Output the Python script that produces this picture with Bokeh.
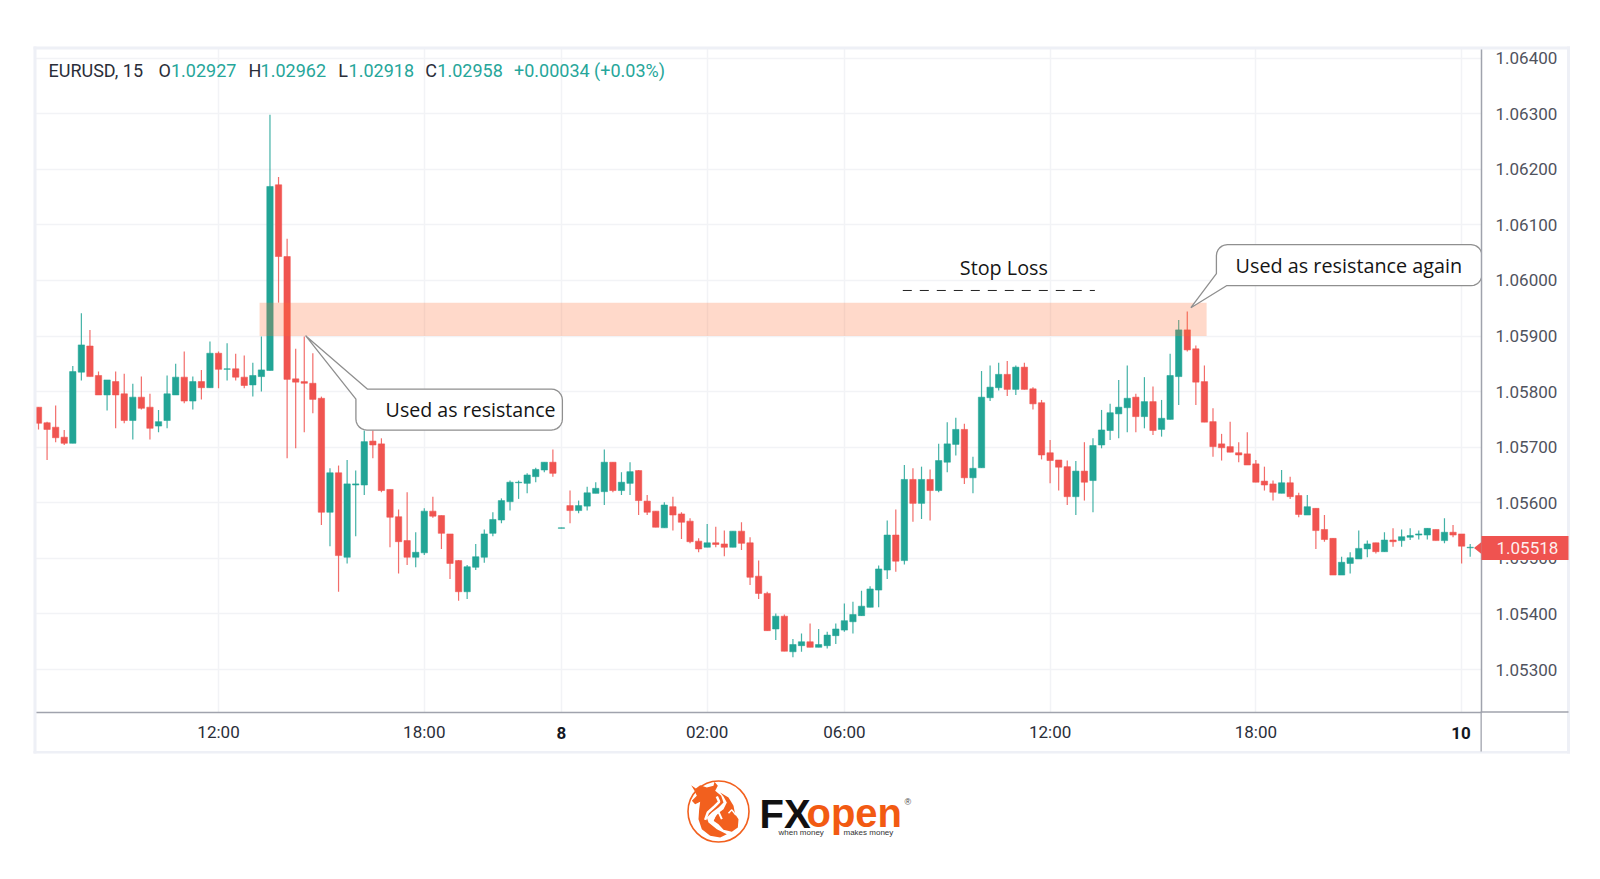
import numpy as np
from bokeh.plotting import figure
from bokeh.models import FixedTicker, NumeralTickFormatter, Label
from bokeh.embed import file_html
from bokeh.resources import INLINE

# prices in 1e-5 above 1.0 (5772 = 1.05772), one per 15-minute bar
open_pts = [5772,5744,5736,5718,5707,5835,5882,5829,5794,5818,5796,5748,5790,5772,5738,5748,5794,5826,5783,5818,
5807,5869,5840,5841,5826,5812,5827,5838,6172,6043,5823,5818,5815,5788,5583,5654,5502,5632,5632,5711,
5706,5624,5575,5532,5502,5510,5585,5577,5544,5496,5440,5484,5502,5545,5569,5602,5636,5635,5647,5659,
5673,5554,5595,5586,5594,5617,5620,5673,5622,5635,5658,5603,5585,5555,5593,5580,5567,5531,5520,5528,
5526,5520,5549,5528,5468,5437,5373,5396,5332,5343,5350,5340,5343,5361,5371,5386,5397,5412,5443,5479,
5542,5496,5642,5599,5642,5622,5673,5705,5732,5645,5663,5789,5807,5831,5804,5844,5805,5780,5690,5677,
5665,5611,5657,5640,5704,5730,5760,5771,5790,5755,5782,5732,5750,5827,5911,5877,5818,5746,5706,5701,
5690,5688,5670,5639,5634,5617,5636,5613,5578,5590,5552,5536,5470,5491,5499,5517,5528,5512,5533,5532,
5538,5542,5542,5552,5532,5547,5544,5519,5520]
high_pts = [5772,5746,5775,5731,5846,5941,5911,5836,5821,5836,5832,5814,5827,5796,5767,5829,5850,5872,5827,5839,
5890,5872,5887,5868,5865,5852,5899,6298,6186,6075,5877,5899,5869,5791,5662,5667,5677,5658,5730,5730,
5716,5624,5588,5619,5547,5590,5611,5577,5544,5497,5488,5526,5552,5583,5608,5640,5640,5653,5663,5673,
5696,5555,5622,5604,5629,5637,5696,5673,5655,5673,5659,5614,5585,5601,5611,5583,5572,5536,5562,5557,
5550,5549,5565,5538,5496,5440,5401,5399,5355,5365,5383,5373,5368,5383,5419,5422,5442,5450,5487,5568,
5588,5668,5662,5665,5660,5706,5745,5753,5742,5683,5837,5847,5852,5855,5847,5852,5808,5785,5713,5677,
5676,5675,5709,5716,5767,5778,5821,5847,5796,5826,5809,5785,5868,5929,5944,5883,5847,5770,5724,5746,
5709,5727,5677,5665,5640,5659,5647,5618,5614,5590,5578,5536,5503,5511,5550,5532,5528,5547,5554,5552,
5554,5550,5554,5552,5572,5560,5544,5526,5521]
low_pts = [5732,5677,5709,5704,5707,5820,5827,5794,5766,5734,5743,5714,5768,5714,5727,5734,5794,5779,5768,5786,
5807,5806,5820,5820,5806,5791,5800,5838,5960,5680,5698,5727,5761,5560,5522,5440,5491,5540,5614,5680,
5619,5520,5473,5488,5484,5506,5573,5517,5463,5424,5427,5479,5492,5540,5563,5586,5607,5617,5637,5655,
5647,5554,5563,5581,5586,5617,5596,5619,5614,5614,5578,5578,5556,5555,5550,5535,5527,5511,5520,5520,
5504,5520,5515,5452,5427,5370,5353,5333,5322,5332,5340,5340,5338,5346,5368,5365,5397,5412,5412,5463,
5476,5489,5566,5571,5568,5619,5655,5685,5634,5617,5663,5783,5802,5792,5794,5804,5768,5678,5635,5622,
5596,5578,5604,5583,5698,5713,5716,5727,5727,5734,5722,5719,5750,5776,5872,5776,5745,5683,5676,5691,
5673,5668,5637,5622,5604,5617,5607,5574,5578,5517,5530,5470,5470,5473,5499,5502,5509,5512,5521,5521,
5533,5534,5534,5532,5527,5538,5491,5503,5515]
close_pts = [5743,5732,5717,5707,5836,5884,5827,5794,5821,5794,5748,5790,5770,5734,5746,5796,5826,5783,5818,5807,
5869,5840,5841,5826,5811,5829,5839,6169,6043,5822,5817,5815,5786,5583,5654,5505,5634,5634,5710,5704,
5622,5574,5530,5502,5511,5585,5576,5545,5491,5440,5485,5503,5544,5570,5604,5637,5637,5650,5660,5673,
5653,5555,5586,5595,5618,5626,5673,5622,5637,5656,5604,5583,5556,5596,5578,5565,5530,5517,5528,5525,
5520,5549,5527,5466,5437,5370,5396,5333,5345,5350,5340,5345,5362,5373,5388,5399,5414,5445,5481,5542,
5495,5642,5599,5642,5622,5676,5706,5732,5645,5662,5790,5808,5831,5804,5844,5804,5778,5686,5676,5664,
5611,5657,5637,5703,5731,5762,5772,5788,5755,5782,5730,5752,5829,5911,5875,5817,5745,5701,5699,5691,
5686,5668,5637,5632,5619,5636,5611,5579,5593,5550,5534,5470,5493,5501,5518,5526,5512,5533,5530,5539,
5541,5544,5554,5532,5547,5542,5522,5520,5518]

tick_bars = [22, 46, 62, 79, 95, 119, 143, 167]
tick_labels = ["12:00", "18:00", "8", "02:00", "06:00", "12:00", "18:00", "10"]
bold_ticks = ["8", "10"]
price_ticks = [1.053, 1.054, 1.055, 1.056, 1.057, 1.058, 1.059, 1.060, 1.061, 1.062, 1.063, 1.064]
zone_low, zone_high = 1.05900, 1.05960
last_price = 1.05518

legend_parts = [("EURUSD, 15", 48, "#2a2e39"), ("O", 158, "#2a2e39"), ("1.02927", 170.4, "#26a69a"),
                ("H", 248, "#2a2e39"), ("1.02962", 260, "#26a69a"), ("L", 337.7, "#2a2e39"),
                ("1.02918", 348, "#26a69a"), ("C", 424.5, "#2a2e39"), ("1.02958", 436.7, "#26a69a"),
                ("+0.00034 (+0.03%)", 513.3, "#26a69a")]

TEAL, RED = "#22a596", "#f05450"
FONT = "Roboto"
AXIS_COL = "#a0a3ad"

op, hi, lo, cl = [1.0 + np.array(a) / 1e5 for a in (open_pts, high_pts, low_pts, close_pts)]
bars = np.arange(1, len(op) + 1)
colors = [TEAL if c >= o else RED for o, c in zip(op, cl)]

# page-pixel helpers for the annotations that are not data
BAR_PX, BAR0_PX = 8.57, 38.0
PRICE_PX, P0_Y = 55550.0, 335.3
dx = lambda px: (np.asarray(px, dtype=float) - BAR0_PX) / BAR_PX + 1
dy = lambda py: 1.059 + (P0_Y - np.asarray(py, dtype=float)) / PRICE_PX

FL, FR, FT, FB = 35.0, 1480.5, 48.0, 711.5
OFF = 8

p = figure(width=1584, height=752, output_backend="svg", toolbar_location=None,
           x_range=(float(dx(FL)), float(dx(FR))), y_range=(float(dy(FB)), float(dy(FT))),
           y_axis_location="right", min_border_left=int(FL - OFF), min_border_top=int(FT - OFF),
           min_border_right=int(1592 - FR), min_border_bottom=int(760 - FB), outline_line_color=None,
           margin=(8, 0, 0, 8))
p.background_fill_color = "white"

yaxis = p.yaxis[0]
yaxis.ticker = FixedTicker(ticks=price_ticks)
yaxis.formatter = NumeralTickFormatter(format="0.00000")
yaxis.major_tick_line_color = None
yaxis.minor_tick_line_color = None
yaxis.major_label_standoff = 8
yaxis.major_label_text_font = FONT
yaxis.major_label_text_font_size = "17px"
yaxis.major_label_text_color = "#50535e"
yaxis.axis_line_color = AXIS_COL
yaxis.axis_line_width = 1.5

xaxis = p.xaxis[0]
xaxis.ticker = FixedTicker(ticks=tick_bars)
xaxis.major_label_overrides = {b: (" " if t in bold_ticks else t) for b, t in zip(tick_bars, tick_labels)}
xaxis.major_tick_line_color = None
xaxis.minor_tick_line_color = None
xaxis.major_label_standoff = 3
xaxis.major_label_text_font = FONT
xaxis.major_label_text_font_size = "17px"
xaxis.major_label_text_color = "#2a2e39"
xaxis.axis_line_color = AXIS_COL
xaxis.axis_line_width = 1.5

p.xgrid[0].ticker = FixedTicker(ticks=tick_bars)
p.ygrid[0].ticker = FixedTicker(ticks=price_ticks)
for g in (p.xgrid[0], p.ygrid[0]):
    g.grid_line_color = "#f2f3f6"
    g.grid_line_width = 1.5

# candles
p.segment(bars, hi, bars, lo, color=colors, line_width=1.2, line_alpha=0.85)
p.vbar(bars, width=0.74, top=np.maximum(op, cl), bottom=np.minimum(op, cl),
       fill_color=colors, line_color=colors, line_width=1, line_alpha=0.55)

# resistance zone
p.quad(left=dx(259), right=dx(1205.7), bottom=zone_low, top=zone_high,
       fill_color="#ff6e32", fill_alpha=0.26, line_color=None)

# stop-loss marker
p.line(dx([902, 1094]), dy([289.8, 289.8]), line_color="#222222", line_width=1, line_dash="9 8")


def corner(cx, cy, r, a0, a1, n=7):
    t = np.radians(np.linspace(a0, a1, n))
    return list(cx + r * np.cos(t)), list(cy + r * np.sin(t))


def rounded(L, R, T, B, r):
    xs, ys = [], []
    for (cx, cy, a0, a1) in [(L + r, T + r, 180, 270), (R - r, T + r, 270, 360),
                             (R - r, B - r, 0, 90), (L + r, B - r, 90, 180)]:
        a, b = corner(cx, cy, r, a0, a1)
        xs += a
        ys += b
    return xs, ys


def draw_callout(xs, ys):
    p.patch(dx(xs), dy(ys), fill_color="white", line_color="#8f8f8f", line_width=1.3)


# callout 1: pointer leaves the left edge, returns into the top edge
x1, y1 = rounded(355.3, 561.7, 388.3, 429.3, 11)
draw_callout([355.3, 305.0, 366.7] + x1[7:] + [355.3], [398.3, 335.0, 388.3] + y1[7:] + [398.3])
# callout 2
x2, y2 = rounded(1215.5, 1481.0, 244.0, 285.0, 11)
draw_callout(x2[:21] + [1225.6, 1190.0, 1215.5], y2[:21] + [285.0, 307.0, 273.0])


def text(t, px, py, size, color, font=FONT):
    p.add_layout(Label(x=float(dx(px)), y=float(dy(py)), text=t, text_font=font, text_font_size=size,
                       text_color=color, text_baseline="middle"))


for t, px, col in legend_parts:
    text(t, px, 70, "18px", col)
text("Used as resistance", 385.0, 409, "19.6px", "#151515", font="Open Sans")
text("Used as resistance again", 1234.7, 265, "19.8px", "#151515", font="Open Sans")
text("Stop Loss", 959, 267, "19.8px", "#151515", font="Open Sans")

# transparent overlay in page pixels: pane frame, dividers, last-price tag, bold ticks and logo
q = figure(width=1584, height=863, output_backend="svg", toolbar_location=None,
           x_range=(8, 1592), y_range=(871, 8), min_border=0, outline_line_color=None,
           background_fill_alpha=0, border_fill_alpha=0,
           styles={"position": "absolute", "left": "8px", "top": "8px", "pointer-events": "none"})
q.axis.visible = False
q.grid.visible = False


def band(l, r, t, b, color):
    q.quad(left=l, right=r, top=t, bottom=b, fill_color=color, line_color=None)


FRAME = "#eef0f6"
band(33, 36, 46, 753, FRAME)
band(1566.5, 1569.5, 46, 753, FRAME)
band(33, 1569.5, 46, 49, FRAME)
band(33, 1569.5, 750.5, 753, FRAME)
band(1480, 1481.3, 711, 751, AXIS_COL)
band(1481, 1568, 710.8, 712.2, AXIS_COL)

# last-price tag
tag_y = float(P0_Y + (1.059 - last_price) * PRICE_PX)
q.patch([1473.5, 1481, 1481], [tag_y, tag_y - 6, tag_y + 6], fill_color="#ef5350", line_color=None)
band(1481, 1568, tag_y - 12, tag_y + 12, "#ef5350")


def qtext(t, x, y, size, color, style="normal", align="left", font=FONT, alpha=1.0):
    q.add_layout(Label(x=x, y=y, text=t, text_font=font, text_font_size=size, text_color=color,
                       text_font_style=style, text_align=align, text_baseline="middle", text_alpha=alpha))


qtext(f"{last_price:.5f}", 1496, tag_y, "17px", "#ffffff", alpha=0.92)
for b, t in zip(tick_bars, tick_labels):
    if t in bold_ticks:
        qtext(t, BAR0_PX + (b - 1) * BAR_PX, 732, "17px", "#131722", style="bold", align="center")

# logo
ORANGE = "#f2601e"
zx = lambda a: [678 + v / 3 for v in a]
zy = lambda a: [772 + v / 3 for v in a]
q.scatter([718], [811], size=61, marker="circle", fill_color=None, line_color=ORANGE, line_width=1.6)
bull_x = [38, 52, 65, 85, 105, 108, 118, 110, 128, 135, 120, 100, 85, 90, 115, 145, 125, 95, 70, 60, 62, 65, 50, 40, 55, 48]
bull_y = [38, 48, 38, 45, 40, 28, 40, 55, 70, 90, 105, 120, 135, 150, 170, 185, 195, 190, 170, 140, 110, 88, 95, 85, 70, 55]
calf_x = [125, 150, 165, 170, 180, 178, 160, 135, 120, 105, 115, 135, 145, 135]
calf_y = [60, 75, 100, 125, 140, 165, 178, 172, 155, 145, 125, 110, 90, 72]
q.patch(zx(bull_x), zy(bull_y), fill_color=ORANGE, line_color=None)
q.patch(zx(calf_x), zy(calf_y), fill_color=ORANGE, line_color=None)
q.line(zx([115, 122, 108, 88, 80]), zy([72, 88, 102, 120, 142]), line_color="white", line_width=2.5)
q.line(zx([100, 108, 120, 130]), zy([150, 130, 118, 140]), line_color="white", line_width=2)
q.line(zx([150, 160, 172]), zy([122, 112, 128]), line_color="white", line_width=1.5)

qtext("FX", 759, 813, "40px", "#111111", style="bold", font="Liberation Sans")
qtext("open", 806, 812, "40px", "#f25a12", style="bold", font="Liberation Sans")
qtext("when money", 778, 832, "8px", "#333333", font="Liberation Sans")
qtext("makes money", 843, 832, "8px", "#333333", font="Liberation Sans")
qtext("®", 904, 801, "9px", "#444444", font="Liberation Sans")

open("out.html", "w").write(file_html([p, q], INLINE))
